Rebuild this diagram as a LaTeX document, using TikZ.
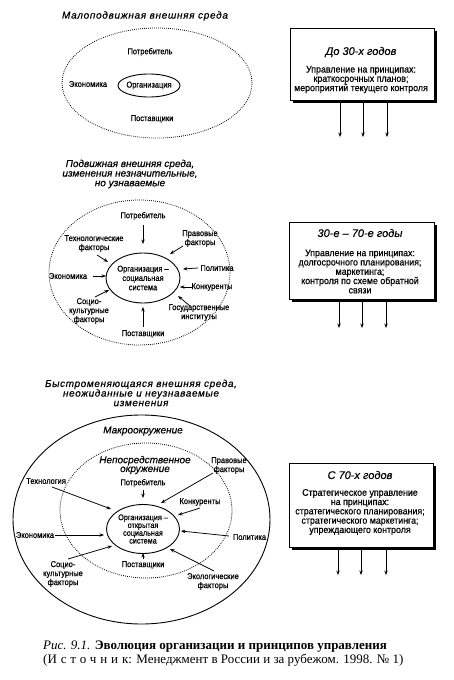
\documentclass[tikz,border=0pt]{standalone}
\usepackage{fontspec}
\setmainfont{Liberation Sans}
\newfontfamily\lab{Liberation Sans}[FakeStretch=0.88, FakeBold=0.5]
\newfontfamily\boxfont{Liberation Sans}[FakeStretch=0.92, FakeBold=0.5]
\newfontfamily\ttlfont{Liberation Sans}[FakeBold=0.4]
\newfontfamily\capfont{Liberation Serif}
\usetikzlibrary{arrows.meta,shapes.geometric,shadows}
\begin{document}
\begin{tikzpicture}[x=1pt,y=-1pt,
  lbl/.style={font=\lab\fontsize{8.5}{9}\selectfont, align=center, inner sep=0pt},
  orgtxt/.style={font=\lab\fontsize{8.5}{9.3}\selectfont, align=center, inner sep=0pt},
  ttl/.style={font=\ttlfont\itshape\fontsize{10}{9.6}\selectfont, align=center, inner sep=0pt},
  boxttl/.style={font=\ttlfont\itshape\fontsize{11}{11}\selectfont, inner sep=0pt},
  boxtxt/.style={font=\boxfont\fontsize{9.6}{9.3}\selectfont, align=center, inner sep=0pt},
  arr/.style={-{Stealth[length=4.5pt,width=3.4pt]}, line width=0.75pt},
  dotted ell/.style={ellipse, draw, line width=0.8pt, dash pattern=on 0.8pt off 1.2pt, inner sep=0pt},
  solid ell/.style={ellipse, draw, line width=0.9pt, inner sep=0pt},
  panel/.style={draw, line width=0.8pt, fill=white, inner sep=0pt,
    drop shadow={shadow xshift=2.6pt, shadow yshift=-2.6pt, fill=black, opacity=1}}
]
\useasboundingbox[fill=white] (0,0) rectangle (453,680);

% ---------------- Top section ----------------
\node[ttl] (title1) at (145,16) {\addfontfeature{LetterSpace=7}Малоподвижная внешняя среда};
\node[dotted ell, minimum width=190pt, minimum height=110pt] (env1) at (157,83) {};
\node[solid ell, minimum width=62pt, minimum height=23pt] (org1) at (149,85.5) {};
\node[orgtxt] (org1t) at (org1) {Организация};
\node[lbl] (cons1) at (150,52) {Потребитель};
\node[lbl] (eco1) at (88,84) {Экономика};
\node[lbl] (sup1) at (152,119) {Поставщики};

\node[panel, minimum width=144pt, minimum height=72pt] (b1) at (362,64) {};
\node[boxttl] (t1) at (361,52) {До 30-х годов};
\node[boxtxt] (d1) at (361,79.5) {Управление на принципах:\\краткосрочных планов;\\мероприятий текущего контроля};
\coordinate (b1a) at (340,137);
\coordinate (b1b) at (363,137);
\coordinate (b1c) at (387,137);
\draw[arr] (b1a |- b1.south) -- (b1a);
\draw[arr] (b1b |- b1.south) -- (b1b);
\draw[arr] (b1c |- b1.south) -- (b1c);

% ---------------- Middle section ----------------
\node[ttl] (title2) at (130,174) {Подвижная внешняя среда,\\изменения незначительные,\\но узнаваемые};
\node[dotted ell, minimum width=181pt, minimum height=145pt] (env2) at (139.5,272.5) {};
\node[solid ell, minimum width=74pt, minimum height=50pt] (org2) at (143,278) {};
\node[orgtxt] (org2t) at (org2) {Организация –\\социальная\\система};

\node[lbl] (cons2) at (143,216) {Потребитель};
\node[lbl] (tech2) at (94,243.5) {Технологические\\факторы};
\node[lbl] (law2) at (200,238.5) {Правовые\\факторы};
\node[lbl] (eco2) at (68,276) {Экономика};
\node[lbl] (pol2) at (217,268) {Политика};
\node[lbl] (comp2) at (212,287) {Конкуренты};
\node[lbl] (gov2) at (199,312.5) {Государственные\\институты};
\node[lbl] (soc2) at (89,311) {Социо-\\культурные\\факторы};
\node[lbl] (sup2) at (143,334) {Поставщики};

\coordinate (c2s) at (143,225);  \coordinate (c2e) at (143,244);
\coordinate (t2s) at (97,255);   \coordinate (t2e) at (108,262);
\coordinate (l2s) at (183,246);  \coordinate (l2e) at (170,254);
\coordinate (e2s) at (93,276);   \coordinate (e2e) at (106,276);
\coordinate (p2s) at (198,268);  \coordinate (p2e) at (183,269);
\coordinate (k2s) at (193,287);  \coordinate (k2e) at (180,287);
\coordinate (g2s) at (190,306);  \coordinate (g2e) at (178,296);
\coordinate (s2s) at (95,297);   \coordinate (s2e) at (109,290);
\coordinate (u2s) at (143,327);  \coordinate (u2e) at (143,307);
\draw[arr] (c2s) -- (c2e);
\draw[arr] (t2s) -- (t2e);
\draw[arr] (l2s) -- (l2e);
\draw[arr] (e2s) -- (e2e);
\draw[arr] (p2s) -- (p2e);
\draw[arr] (k2s) -- (k2e);
\draw[arr] (g2s) -- (g2e);
\draw[arr] (s2s) -- (s2e);
\draw[arr] (u2s) -- (u2e);

\node[panel, minimum width=145pt, minimum height=77pt] (b2) at (361.5,260.5) {};
\node[boxttl] (t2) at (360,233) {30-е – 70-е годы};
\node[boxtxt] (d2) at (360,271.5) {Управление на принципах:\\долгосрочного планирования;\\маркетинга;\\контроля по схеме обратной\\связи};
\coordinate (b2a) at (339,328);
\coordinate (b2b) at (362,328);
\coordinate (b2c) at (386,328);
\draw[arr] (b2a |- b2.south) -- (b2a);
\draw[arr] (b2b |- b2.south) -- (b2b);
\draw[arr] (b2c |- b2.south) -- (b2c);

% ---------------- Bottom section ----------------
\node[ttl] (title3) at (141,393) {\addfontfeature{LetterSpace=6}Быстроменяющаяся внешняя среда,\\\addfontfeature{LetterSpace=6}неожиданные и неузнаваемые\\\addfontfeature{LetterSpace=6}изменения};
\node[solid ell, minimum width=257pt, minimum height=209pt] (macro) at (141.5,519.5) {};
\node[ttl] (macrot) at (143,431) {Макроокружение};
\node[dotted ell, minimum width=172pt, minimum height=135pt] (env3) at (146,510.5) {};
\node[ttl, font=\ttlfont\itshape\fontsize{10}{8.8}\selectfont] (neart) at (145,465) {Непосредственное\\окружение};
\node[solid ell, minimum width=73pt, minimum height=49pt] (org3) at (143,529) {};
\node[orgtxt, font=\lab\fontsize{8.2}{7.8}\selectfont] (org3t) at (org3) {Организация –\\открытая\\социальная\\система};

\node[lbl] (cons3) at (143,483) {Потребитель};
\node[lbl] (sup3) at (143,565) {Поставщики};
\node[lbl] (tech3) at (46,481) {Технология};
\node[lbl] (law3) at (229,465.5) {Правовые\\факторы};
\node[lbl] (comp3) at (200,502) {Конкуренты};
\node[lbl] (eco3) at (35,535) {Экономика};
\node[lbl] (pol3) at (249.5,537) {Политика};
\node[lbl] (soc3) at (63,574) {Социо-\\культурные\\факторы};
\node[lbl] (ecol3) at (213,581.5) {Экологические\\факторы};

\coordinate (c3s) at (143,490);  \coordinate (c3e) at (143,498);
\coordinate (u3s) at (143,559);  \coordinate (u3e) at (143,553);
\coordinate (t3s) at (52,487);   \coordinate (t3e) at (111,509);
\coordinate (l3s) at (213,473);  \coordinate (l3e) at (161,503);
\coordinate (k3s) at (200,508);  \coordinate (k3e) at (178,515);
\coordinate (e3s) at (55,535);   \coordinate (e3e) at (104,535);
\coordinate (p3s) at (229,536);  \coordinate (p3e) at (181,531);
\coordinate (s3s) at (68,559);   \coordinate (s3e) at (112,546);
\coordinate (o3s) at (214,571);  \coordinate (o3e) at (170,549);
\draw[arr] (c3s) -- (c3e);
\draw[arr] (u3s) -- (u3e);
\draw[arr] (t3s) -- (t3e);
\draw[arr] (l3s) -- (l3e);
\draw[arr] (k3s) -- (k3e);
\draw[arr] (e3s) -- (e3e);
\draw[arr] (p3s) -- (p3e);
\draw[arr] (s3s) -- (s3e);
\draw[arr] (o3s) -- (o3e);

\node[panel, minimum width=144pt, minimum height=84pt] (b3) at (361,505) {};
\node[boxttl] (t3) at (360,475) {С 70-х годов};
\node[boxtxt] (d3) at (360,512) {Стратегическое управление\\на принципах:\\стратегического планирования;\\стратегического маркетинга;\\упреждающего контроля};
\coordinate (b3a) at (338,575);
\coordinate (b3b) at (361,575);
\coordinate (b3c) at (386,575);
\draw[arr] (b3a |- b3.south) -- (b3a);
\draw[arr] (b3b |- b3.south) -- (b3b);
\draw[arr] (b3c |- b3.south) -- (b3c);

% ---------------- Caption ----------------
\node[font=\capfont\fontsize{13}{14}\selectfont, align=left, anchor=west, inner sep=0pt] (caption) at (43,654)
  {\textit{Рис. 9.1.} \textbf{Эволюция организации и принципов управления}\\
   ({\addfontfeature{LetterSpace=30}Источник}: Менеджмент в России и за рубежом. 1998. №~1)};
\end{tikzpicture}
\end{document}
